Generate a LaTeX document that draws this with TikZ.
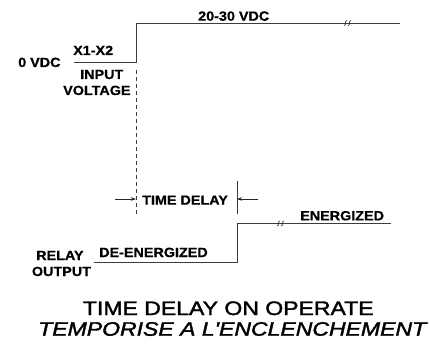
\documentclass[tikz,border=0pt]{standalone}
\usepackage{fontspec}
\setmainfont{Liberation Sans}[BoldFeatures={FakeBold=0.6}]
\newfontfamily\capfont{Liberation Sans}[FakeBold=1.6, ItalicFeatures={FakeBold=1.6}]
\usepackage{tikz}
\usetikzlibrary{arrows.meta,positioning,calc}
\definecolor{waveline}{RGB}{60,60,60}

\begin{document}
\begin{tikzpicture}[
  x=1pt, y=-1pt,
  wave/.style={draw=waveline, line width=0.9pt},
  lbl/.style={font=\fontsize{13.3}{15}\selectfont\bfseries, inner sep=0pt,
              anchor=base west, xscale=1.08, transform shape},
  ttl/.style={font=\fontsize{19.5}{22}\selectfont\capfont, inner sep=0pt,
              anchor=base west, xscale=1.18, transform shape},
  tip/.style={-{Stealth[length=5pt,width=3.5pt]}, draw=black!85, line width=0.7pt},
  brk/.pic={
    \draw[black!85, line width=0.6pt] (-0.4,-2.6) .. controls (-3.2,-2.6) and (-0.8,2.6) .. (-3.6,2.6);
    \draw[black!85, line width=0.6pt] (3.6,-2.6) .. controls (0.8,-2.6) and (3.2,2.6) .. (0.4,2.6);
  }
]
\useasboundingbox (0,0) rectangle (430,347);

% input voltage
\coordinate (inlo) at (74,62);
\coordinate (instep) at (136,62);
\coordinate (inup) at (136,23);
\coordinate (inend) at (400,23);
\draw[wave] (inlo) -- (instep) -- (inup) -- (inend);
\pic at (347.5,23) {brk};

\node[lbl] (vzero) at (18,67) {0 VDC};
\node[lbl] (xlabel) at (73,55) {X1-X2};
\node[lbl] (input) at (80,79) {INPUT};
\node[lbl] (voltage) at (63,95) {VOLTAGE};
\node[lbl] (vhigh) at (198,20.7) {20-30 VDC};

% time delay
\coordinate (dtop) at (136,70);
\coordinate (dbot) at (136,214);
\draw[wave, line width=0.8pt, dash pattern=on 4pt off 3pt] (dtop) -- (dbot);

\coordinate (bartop) at (237,181);
\coordinate (barbot) at (237,214);
\draw[wave, line width=0.8pt] (bartop) -- (barbot);

\coordinate (tdl) at (115,199);
\coordinate (tda) at (136,199);
\coordinate (tdb) at (237,199);
\coordinate (tdr) at (258,199);
\draw[tip] (tdl) -- (tda);
\draw[tip] (tdr) -- (tdb);
\node[lbl] (tdtext) at (142,204.7) {TIME DELAY};

% relay output
\coordinate (outlo) at (94,262);
\coordinate (outstep) at (237,262);
\coordinate (outup) at (237,223);
\coordinate (outend) at (391,223);
\draw[wave] (outlo) -- (outstep) -- (outup) -- (outend);
\pic at (280.5,223.5) {brk};

\node[lbl] (relay) at (36,260) {RELAY};
\node[lbl] (output) at (31.7,276) {OUTPUT};
\node[lbl] (deen) at (99,257) {DE-ENERGIZED};
\node[lbl] (en) at (300,220.3) {ENERGIZED};

% caption
\node[ttl] (title) at (82.7,315) {TIME DELAY ON OPERATE};
\node[ttl, font=\fontsize{19.5}{22}\selectfont\capfont\itshape] (subtitle) at (38,335.7)
  {TEMPORISE A L\textquotesingle ENCLENCHEMENT};

\end{tikzpicture}
\end{document}
